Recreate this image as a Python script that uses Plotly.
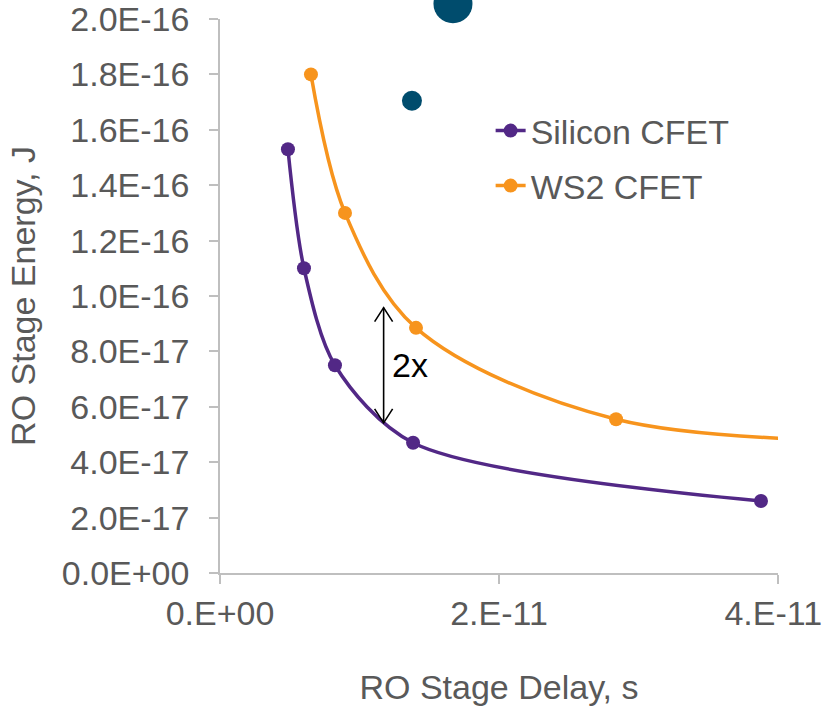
import plotly.graph_objects as go

# Ring-oscillator stage delay (s) vs. stage energy (J)
si_delay = [4.87e-12, 6.02e-12, 8.24e-12, 1.384e-11, 3.878e-11]
si_energy = [1.53e-16, 1.10e-16, 7.5e-17, 4.7e-17, 2.6e-17]

ws2_delay = [6.52e-12, 8.96e-12, 1.405e-11, 2.839e-11, 5.2e-11]
ws2_energy = [1.80e-16, 1.30e-16, 8.85e-17, 5.55e-17, 4.75e-17]

# Additional points (bubble sizes in px)
other_delay = [1.376e-11, 1.67e-11]
other_energy = [1.705e-16, 2.055e-16]
other_size = [20, 39]

x_ticks = [0, 2e-11, 4e-11]
x_tick_text = ["0.E+00", "2.E-11", "4.E-11&nbsp;"]
y_ticks = [i * 2e-17 for i in range(11)]
y_tick_text = ["0.0E+00", "2.0E-17", "4.0E-17", "6.0E-17", "8.0E-17", "1.0E-16",
               "1.2E-16", "1.4E-16", "1.6E-16", "1.8E-16", "2.0E-16"]

# Double arrow marking the energy gap
gap_x = 1.173e-11
gap_top = 9.58e-17
gap_bottom = 5.42e-17
gap_label = "2x"

PURPLE = "#522886"
ORANGE = "#F7941D"
TEAL = "#004C6D"
AXIS = "#BFBFBF"
TEXT = "#595959"
FONT = "Liberation Sans, Arial, sans-serif"
FS = 34

Y_MAX = 2e-16
# Main y axis occupies the lower part of the plotting height; a hidden
# full-height axis with the same scale lets the bubbles run past the top.
PLOT_H = 706 - 133
Y_DOMAIN_TOP = (PLOT_H - 19) / PLOT_H

fig = go.Figure()
fig.add_trace(go.Scatter(
    x=other_delay, y=other_energy, mode="markers", showlegend=False,
    marker=dict(color=TEAL, size=other_size, opacity=1, line=dict(width=0)),
    yaxis="y2",
))
fig.add_trace(go.Scatter(
    x=si_delay, y=si_energy, name="Silicon CFET", mode="lines+markers",
    line=dict(color=PURPLE, width=3.5, shape="spline", smoothing=0.85),
    marker=dict(color=PURPLE, size=14), legend="legend",
))
fig.add_trace(go.Scatter(
    x=ws2_delay, y=ws2_energy, name="WS2 CFET", mode="lines+markers",
    line=dict(color=ORANGE, width=3.5, shape="spline", smoothing=0.95),
    marker=dict(color=ORANGE, size=14), legend="legend2",
))

# Arrow shaft
fig.add_shape(type="line", x0=gap_x, x1=gap_x, y0=gap_bottom, y1=gap_top,
              line=dict(color="black", width=1.6))
# Chevron heads, sized in pixels around the shaft ends
fig.add_shape(type="path", xsizemode="pixel", ysizemode="pixel",
              xanchor=gap_x, yanchor=gap_top,
              path="M -9,-14 L 0,0 L 9,-14", line=dict(color="black", width=1.6))
fig.add_shape(type="path", xsizemode="pixel", ysizemode="pixel",
              xanchor=gap_x, yanchor=gap_bottom,
              path="M -9,14 L 0,0 L 9,14", line=dict(color="black", width=1.6))
fig.add_annotation(x=gap_x, y=(gap_top + gap_bottom) / 2, text=gap_label,
                   showarrow=False, xanchor="left", xshift=6,
                   font=dict(family=FONT, size=FS, color="black"))

legend_style = dict(xanchor="left", yanchor="middle", bgcolor="rgba(0,0,0,0)",
                    font=dict(size=FS, color=TEXT), itemwidth=30)

fig.update_layout(
    width=824, height=706,
    margin=dict(l=220, r=46, t=0, b=133),
    paper_bgcolor="white", plot_bgcolor="rgba(0,0,0,0)",
    font=dict(family=FONT, size=FS, color=TEXT),
    showlegend=True,
    legend=dict(x=0.485, y=1 - 131 / PLOT_H, **legend_style),
    legend2=dict(x=0.485, y=1 - 186 / PLOT_H, **legend_style),
    xaxis=dict(
        range=[0, 4e-11], tickvals=x_ticks, ticktext=x_tick_text,
        showgrid=False, zeroline=False, showline=True, linecolor=AXIS, linewidth=1.5,
        ticks="outside", ticklen=9, tickcolor=AXIS, tickwidth=1.5,
        automargin=False, ticklabeloverflow="allow",
        title=dict(text="RO Stage Delay, s", standoff=48, font=dict(size=FS, color=TEXT)),
    ),
    yaxis=dict(
        domain=[0, Y_DOMAIN_TOP],
        range=[0, Y_MAX], tickvals=y_ticks, ticktext=y_tick_text,
        showgrid=False, zeroline=False, showline=True, linecolor=AXIS, linewidth=1.5,
        ticks="outside", ticklen=9, tickcolor=AXIS, tickwidth=1.5,
        ticklabelstandoff=13, automargin=False, ticklabeloverflow="allow",
        title=dict(text="RO Stage Energy, J", standoff=16, font=dict(size=FS, color=TEXT)),
    ),
    yaxis2=dict(
        domain=[0, 1], anchor="x", range=[0, Y_MAX / Y_DOMAIN_TOP],
        visible=False, showgrid=False, zeroline=False,
    ),
)

fig.write_html("out.html")
